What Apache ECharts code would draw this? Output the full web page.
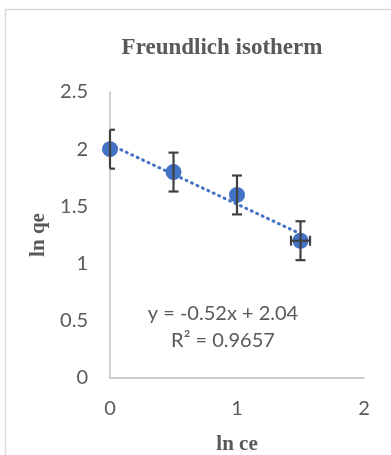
<!DOCTYPE html>
<html><head><meta charset="utf-8">
<script src="https://cdn.jsdelivr.net/npm/echarts@6/dist/echarts.min.js"></script>
<style>html,body{margin:0;padding:0;background:#fff}#c{width:391px;height:455px}</style>
</head><body><div id="c"></div>
<script>
var lnCe = [0, 0.5, 1, 1.5];
var lnQe = [2.0, 1.8, 1.6, 1.2];
var errY = [0.17, 0.17, 0.17, 0.17];
var errX = [0, 0, 0, 0.075];
var trendX = [0, 1.5];
var trendY = [2.04, 1.26];
var equationText = 'y = -0.52x + 2.04';
var r2Text = 'R² = 0.9657';
var xTicks = [0, 1, 2];
var yTicks = [0, 0.5, 1, 1.5, 2, 2.5];

var pts = lnCe.map(function(x,i){return [x, lnQe[i]];});
var errData = lnCe.map(function(x,i){return [x, lnQe[i], errY[i], errX[i]];});
var trend = trendX.map(function(x,i){return [x, trendY[i]];});

var chart = echarts.init(document.getElementById('c'));
var lab = {color:'#595959', fontFamily:'Lato', fontSize:20};
var nameStyle = {fontFamily:'Liberation Serif', fontWeight:'bold', fontSize:21, color:'#595959'};
chart.setOption({
  animation:false,
  backgroundColor:'#fff',
  title:{text:'Freundlich isotherm', left:217, top:32, textAlign:'center',
    textStyle:{fontFamily:'Liberation Serif', fontWeight:'bold', fontSize:23, color:'#595959'}},
  grid:{left:110, right:27, top:92, bottom:77, containLabel:false, outerBoundsMode:'none'},
  xAxis:{type:'value', min:xTicks[0], max:xTicks[xTicks.length-1], interval:1,
    name:'ln ce', nameLocation:'middle', nameGap:56, nameTextStyle:nameStyle,
    axisLine:{show:true, lineStyle:{color:'#BFBFBF', width:1.5}},
    axisTick:{show:false}, splitLine:{show:false},
    axisLabel:Object.assign({margin:21}, lab)},
  yAxis:{type:'value', min:yTicks[0], max:yTicks[yTicks.length-1], interval:0.5,
    name:'ln qe', nameLocation:'middle', nameGap:54, nameTextStyle:nameStyle,
    axisLine:{show:true, lineStyle:{color:'#BFBFBF', width:1.5}},
    axisTick:{show:false}, splitLine:{show:false},
    axisLabel:Object.assign({margin:22, formatter:function(v){return String(v);}}, lab)},
  graphic:[
    {type:'rect', shape:{x:5.5, y:9.5, width:600, height:600}, style:{fill:null, stroke:'#D9D9D9', lineWidth:1.5}, z:-1},
    {type:'text', x:223, y:304, style:{text:equationText, font:'20px Lato', fill:'#595959', align:'center'}},
    {type:'text', x:223, y:331, style:{text:r2Text, font:'20px Lato', fill:'#595959', align:'center'}}
  ],
  series:[
    {type:'line', data:trend, symbol:'none', z:2,
      lineStyle:{color:'#4472C4', width:3, type:[1,5], cap:'round'}},
    {type:'scatter', data:pts, symbol:'circle', symbolSize:16, z:3,
      itemStyle:{color:'#4472C4', opacity:1}},
    {type:'custom', data:errData, z:4,
      renderItem:function(params, api){
        var cs=params.coordSys;
        var xmin=cs.x, xmax=cs.x+cs.width;
        function cx(v){return Math.max(xmin, Math.min(xmax, v));}
        var x=api.value(0), y=api.value(1), ey=api.value(2), ex=api.value(3);
        var top=api.coord([x,y+ey]), bot=api.coord([x,y-ey]);
        var st={stroke:'#404040', lineWidth:2.2};
        var cw=5;
        var ch=[
          {type:'line', shape:{x1:top[0],y1:top[1],x2:bot[0],y2:bot[1]}, style:st},
          {type:'line', shape:{x1:cx(top[0]-cw),y1:top[1],x2:cx(top[0]+cw),y2:top[1]}, style:st},
          {type:'line', shape:{x1:cx(bot[0]-cw),y1:bot[1],x2:cx(bot[0]+cw),y2:bot[1]}, style:st}
        ];
        if(ex>0){
          var l=api.coord([x-ex,y]), r=api.coord([x+ex,y]);
          ch.push({type:'line', shape:{x1:l[0],y1:l[1],x2:r[0],y2:r[1]}, style:st});
          ch.push({type:'line', shape:{x1:l[0],y1:l[1]-cw,x2:l[0],y2:l[1]+cw}, style:st});
          ch.push({type:'line', shape:{x1:r[0],y1:r[1]-cw,x2:r[0],y2:r[1]+cw}, style:st});
        }
        return {type:'group', children:ch};
      }}
  ]
});
</script></body></html>
